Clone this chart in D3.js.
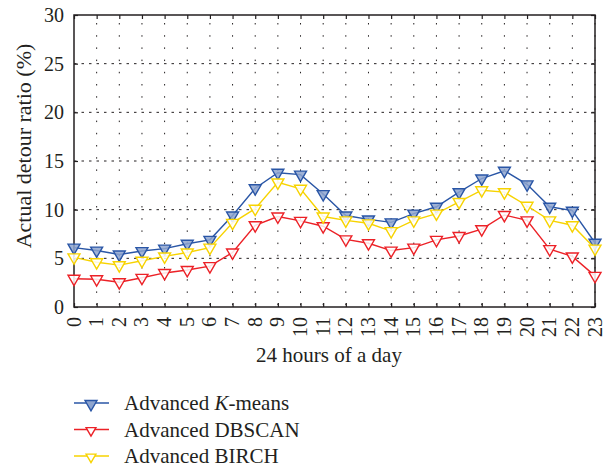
<!DOCTYPE html>
<html>
<head>
<meta charset="utf-8">
<script src="https://cdn.jsdelivr.net/npm/d3@7"></script>
<style>
  body { margin: 0; background: #fff; }
  text { font-family: "Liberation Serif", "DejaVu Serif", serif; fill: #231f20; }
</style>
</head>
<body>
<div id="vis"></div>
<script>

// Data ----------------------------------------------------------------------

var hours = d3.range(0, 24);
var yTicks = [0, 5, 10, 15, 20, 25, 30];

var kmeans = [6.1, 5.8, 5.4, 5.75, 6.0, 6.5, 6.9, 9.4, 12.2, 13.8, 13.6, 11.6,
              9.4, 9.0, 8.7, 9.6, 10.3, 11.8, 13.2, 14.0, 12.6, 10.3, 9.9, 6.6];
var dbscan = [2.9, 2.85, 2.55, 3.0, 3.5, 3.8, 4.2, 5.6, 8.4, 9.3, 8.85, 8.3,
              6.95, 6.55, 5.8, 6.1, 6.9, 7.3, 8.0, 9.45, 8.9, 5.95, 5.2, 3.2];
var birch  = [5.1, 4.6, 4.3, 4.75, 5.2, 5.6, 6.1, 8.65, 10.1, 12.8, 12.15, 9.3,
              8.9, 8.6, 7.8, 8.9, 9.6, 10.8, 12.0, 11.8, 10.4, 8.9, 8.4, 6.0];

var series = [
  {name: "kmeans", values: kmeans, color: "#2a56a6", fill: "#8ea5cf", legendSize: 62},
  {name: "dbscan", values: dbscan, color: "#ec2127", fill: "#ffffff", legendSize: 42},
  {name: "birch",  values: birch,  color: "#f7d300", fill: "#ffffff", legendSize: 42}
];


// Setup ---------------------------------------------------------------------

var width = 611, height = 468;
var plotL = 74, plotR = 595, plotT = 15, plotB = 307;

var svg = d3.select("#vis").append("svg")
  .attr("width", width)
  .attr("height", height);

var x = d3.scaleLinear().domain([0, 23]).range([plotL, plotR]);
var y = d3.scaleLinear().domain([0, 30]).range([plotB, plotT]);

var axisColor = "#231f20";


// Grid ----------------------------------------------------------------------

var grid = svg.append("g").attr("class", "grid");

grid.selectAll(".vgrid")
  .data(hours.slice(1))
  .enter().append("line")
  .attr("x1", function(d) { return x(d); })
  .attr("x2", function(d) { return x(d); })
  .attr("y1", plotT)
  .attr("y2", plotB)
  .attr("stroke", axisColor)
  .attr("stroke-width", 1)
  .attr("stroke-dasharray", "1.5,10.7")
  .attr("stroke-dashoffset", -8);

grid.selectAll(".hgrid")
  .data(yTicks.slice(1, -1))
  .enter().append("line")
  .attr("x1", plotL)
  .attr("x2", plotR)
  .attr("y1", function(d) { return y(d); })
  .attr("y2", function(d) { return y(d); })
  .attr("stroke", axisColor)
  .attr("stroke-width", 1)
  .attr("stroke-dasharray", "2.5,5");


// Axes ----------------------------------------------------------------------

var xAxisB = d3.axisBottom(x).tickValues(hours).tickSize(-4).tickFormat("");
var xAxisT = d3.axisTop(x).tickValues(hours).tickSize(-4).tickFormat("");
var yAxisL = d3.axisLeft(y).tickValues(yTicks).tickSize(-4).tickPadding(10);
var yAxisR = d3.axisRight(y).tickValues(yTicks).tickSize(-4).tickFormat("");

function styleAxis(g) {
  g.select(".domain").remove();
  g.selectAll(".tick line").attr("stroke", axisColor).attr("stroke-width", 1.2);
}

svg.append("g").attr("transform", "translate(0," + plotB + ")").call(xAxisB).call(styleAxis);
svg.append("g").attr("transform", "translate(0," + plotT + ")").call(xAxisT).call(styleAxis);
svg.append("g").attr("transform", "translate(" + plotR + ",0)").call(yAxisR).call(styleAxis);

var yl = svg.append("g").attr("transform", "translate(" + plotL + ",0)").call(yAxisL).call(styleAxis);
yl.selectAll(".tick text")
  .style("font-family", "'Liberation Serif', serif")
  .style("font-size", "20px")
  .attr("fill", axisColor);

// x tick labels, rotated
svg.append("g").selectAll(".xlab")
  .data(hours)
  .enter().append("text")
  .attr("transform", function(d) { return "translate(" + (x(d) + 6.5) + "," + (plotB + 10) + ") rotate(-90)"; })
  .attr("text-anchor", "end")
  .style("font-size", "20px")
  .text(function(d) { return d; });

// frame
svg.append("rect")
  .attr("x", plotL)
  .attr("y", plotT)
  .attr("width", plotR - plotL)
  .attr("height", plotB - plotT)
  .attr("fill", "none")
  .attr("stroke", axisColor)
  .attr("stroke-width", 1.5);

// axis titles
svg.append("text")
  .attr("x", 329)
  .attr("y", 362)
  .attr("text-anchor", "middle")
  .style("font-size", "21px")
  .text("24 hours of a day");

svg.append("text")
  .attr("transform", "translate(31," + 146 + ") rotate(-90)")
  .attr("text-anchor", "middle")
  .style("font-size", "22px")
  .text("Actual detour ratio (%)");


// Lines ---------------------------------------------------------------------

var line = d3.line()
  .x(function(d, i) { return x(hours[i]); })
  .y(function(d) { return y(d); });

var marker = d3.symbol().type(d3.symbolTriangle).size(62);

series.forEach(function(s) {
  var g = svg.append("g").attr("class", "series " + s.name);

  g.append("path")
    .datum(s.values)
    .attr("d", line)
    .attr("fill", "none")
    .attr("stroke", s.color)
    .attr("stroke-width", 1.4);

  g.selectAll(".pt")
    .data(s.values)
    .enter().append("path")
    .attr("class", "pt")
    .attr("d", marker)
    .attr("transform", function(d, i) { return "translate(" + x(hours[i]) + "," + y(d) + ") rotate(180)"; })
    .attr("fill", s.fill)
    .attr("fill-opacity", 0.85)
    .attr("stroke", s.color)
    .attr("stroke-width", 1.4);
});


// Legend --------------------------------------------------------------------

var legendNames = [["Advanced ", "K", "-means"], ["Advanced DBSCAN"], ["Advanced BIRCH"]];

var legend = svg.append("g").attr("class", "legend");

series.forEach(function(s, i) {
  var ly = 403 + i * 26.5;
  legend.append("line")
    .attr("x1", 74).attr("x2", 109)
    .attr("y1", ly).attr("y2", ly)
    .attr("stroke", s.color)
    .attr("stroke-width", 1.4);
  legend.append("path")
    .attr("d", d3.symbol().type(d3.symbolTriangle).size(s.legendSize))
    .attr("transform", "translate(91," + (ly + 1) + ") rotate(180)")
    .attr("fill", s.fill)
    .attr("stroke", s.color)
    .attr("stroke-width", 1.4);

  var t = legend.append("text")
    .attr("x", 124)
    .attr("y", ly + 7)
    .style("font-size", "21px");
  legendNames[i].forEach(function(part, j) {
    t.append("tspan")
      .style("font-style", (i === 0 && j === 1) ? "italic" : "normal")
      .text(part);
  });
});

</script>
</body>
</html>
